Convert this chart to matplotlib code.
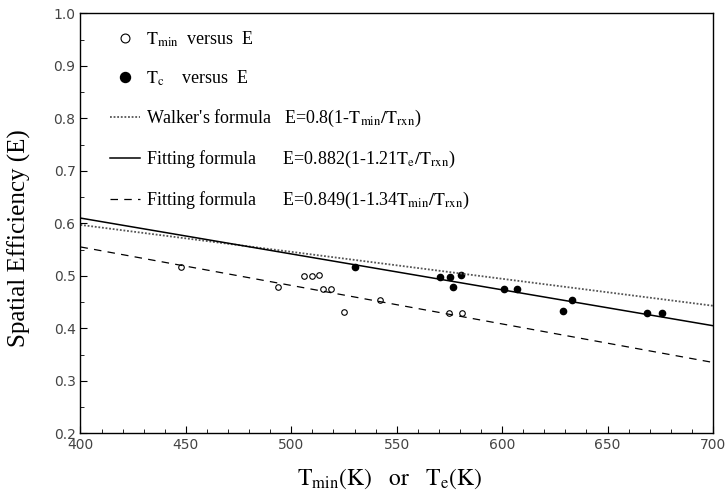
import numpy as np
import matplotlib
matplotlib.use("Agg")
import matplotlib.pyplot as plt
from matplotlib.ticker import MultipleLocator

plt.rcParams['font.family'] = ['Liberation Serif', 'DejaVu Serif']
plt.rcParams['mathtext.fontset'] = 'stix'

# Tmin versus E (open circles)
t_min = [447.7, 493.7, 505.8, 509.8, 513.0, 514.9, 518.8, 525.1, 542.2, 575.0, 581.1]
e_min = [0.516, 0.479, 0.499, 0.499, 0.501, 0.474, 0.474, 0.432, 0.453, 0.429, 0.429]

# Te versus E (filled circles)
t_e = [530.2, 570.6, 575.5, 580.6, 576.6, 601.1, 607.1, 633.3, 629.0, 668.7, 676.0]
e_e = [0.516, 0.498, 0.498, 0.502, 0.479, 0.474, 0.474, 0.453, 0.433, 0.429, 0.429]

# straight lines, values read at the two ends of the axis
line_t = [400, 700]
walker_e = [0.597, 0.443]
fit_te_e = [0.610, 0.405]
fit_tmin_e = [0.555, 0.335]

fig = plt.figure(figsize=(7.27, 4.95), dpi=100)
ax = fig.add_axes([0.1107, 0.1246, 0.870, 0.8485])

ax.plot(t_min, e_min, 'o', mfc='white', mec='black', mew=0.8, ms=4,
        label=r'$\mathrm{T_{min}}$  versus  E')
ax.plot(t_e, e_e, 'o', color='black', ms=4.5,
        label=r'$\mathrm{T_c}$    versus  E')
ax.plot(line_t, walker_e, color='#555555', lw=1.3, linestyle=(0, (1, 1)),
        label=r"Walker's formula   E=0.8(1-$\mathrm{T_{min}/T_{rxn}}$)")
ax.plot(line_t, fit_te_e, color='black', lw=1.1,
        label=r"Fitting formula      E=0.882(1-1.21$\mathrm{T_e/T_{rxn}}$)")
ax.plot(line_t, fit_tmin_e, color='black', lw=0.9, linestyle=(0, (6, 5)),
        label=r"Fitting formula      E=0.849(1-1.34$\mathrm{T_{min}/T_{rxn}}$)")

ax.set_xlim(400, 700)
ax.set_ylim(0.2, 1.0)
ax.xaxis.set_major_locator(MultipleLocator(50))
ax.xaxis.set_minor_locator(MultipleLocator(10))
ax.yaxis.set_major_locator(MultipleLocator(0.1))
ax.yaxis.set_minor_locator(MultipleLocator(0.05))
ax.yaxis.set_major_formatter(matplotlib.ticker.FormatStrFormatter('%.1f'))
ax.tick_params(which='both', direction='in', top=False, right=False)
ax.tick_params(which='major', length=5, width=0.8)
ax.tick_params(which='minor', length=3, width=0.6)
for lab in ax.get_xticklabels() + ax.get_yticklabels():
    lab.set_family('DejaVu Sans')
    lab.set_fontsize(10)
    lab.set_color('#444444')
for s in ax.spines.values():
    s.set_linewidth(1.0)

fig.text(19 / 727, 1 - 238 / 495, 'Spatial Efficiency (E)', rotation=90,
         ha='center', va='center', fontsize=18)
fig.text(390 / 727, 1 - 485 / 495, r'$\mathrm{T_{min}(K)\ \ \ or\ \ \ T_e(K)}$',
         ha='center', va='baseline', fontsize=17)

ax.legend(loc='upper left', bbox_to_anchor=(0.032, 0.983), frameon=False,
          fontsize=13, handlelength=1.7, handletextpad=0.3, labelspacing=1.1,
          markerscale=1.6, borderpad=0)

fig.savefig('out.png', dpi=100)
